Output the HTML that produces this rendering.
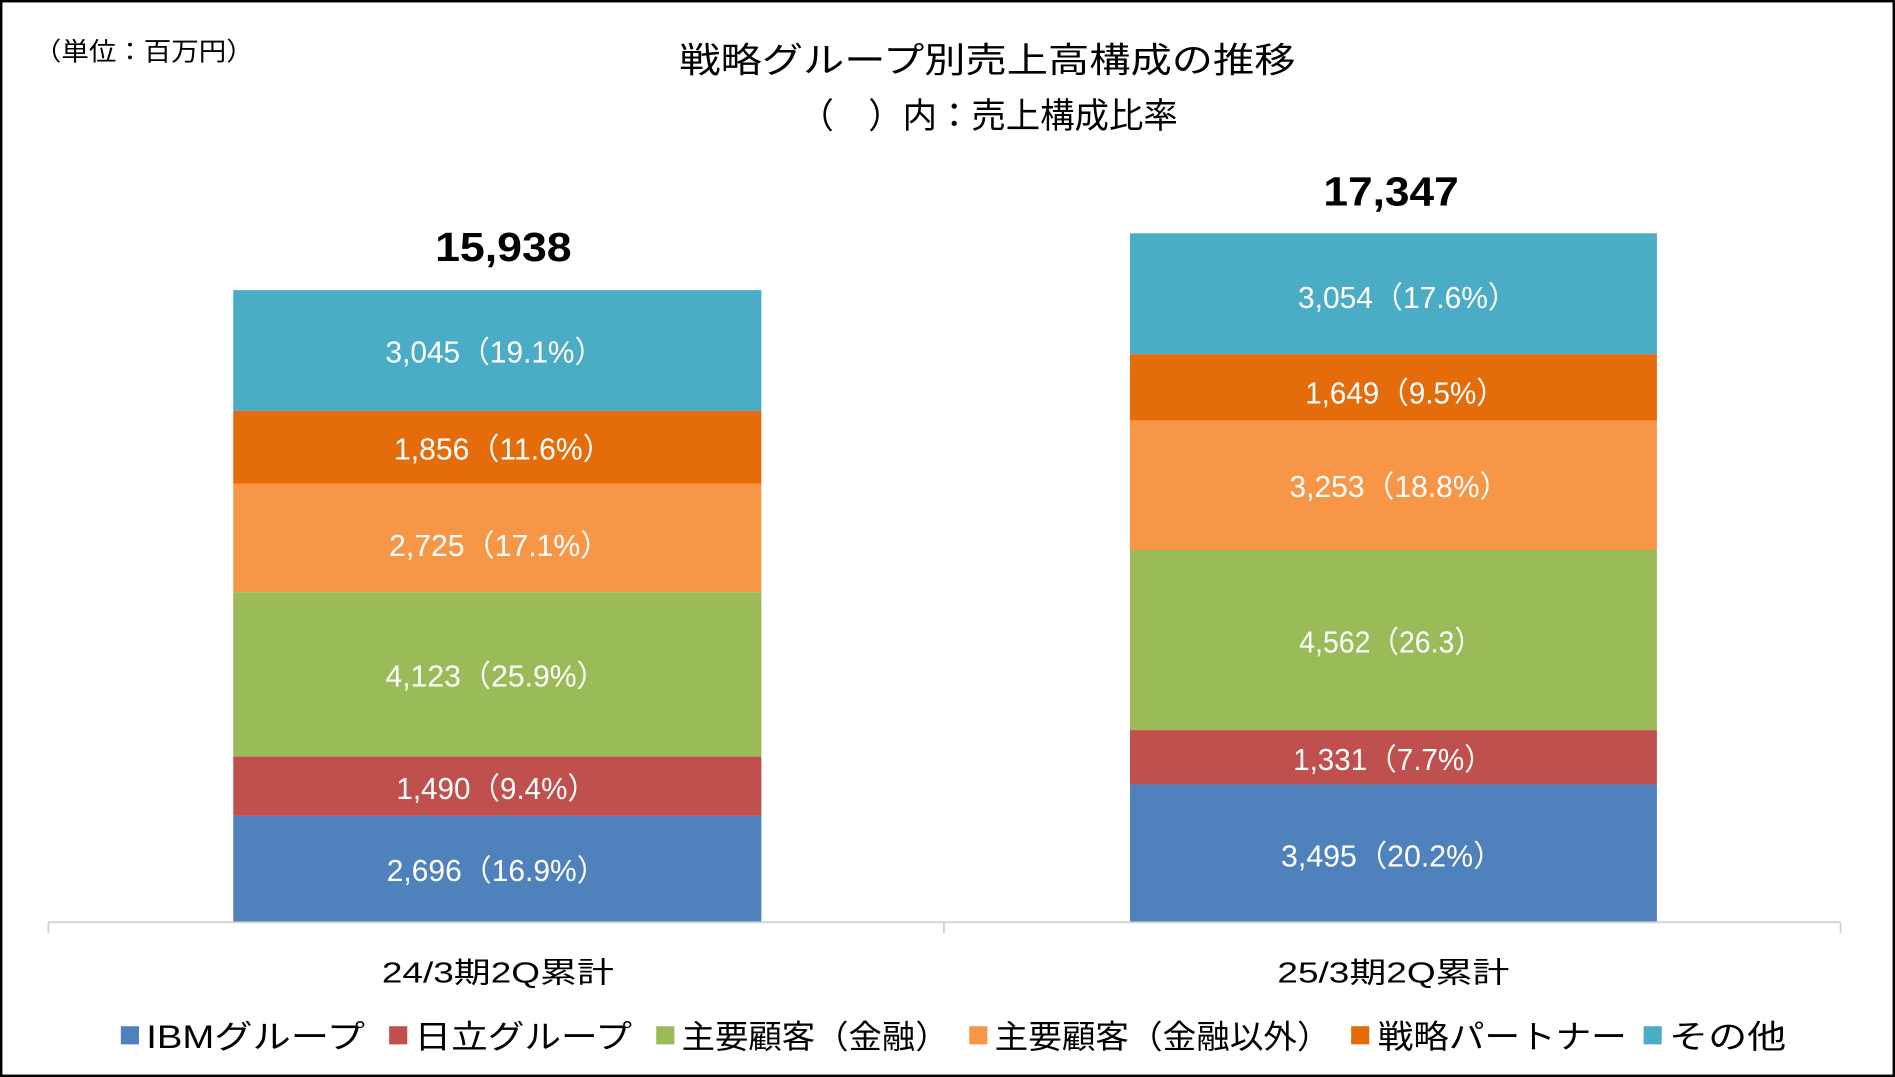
<!DOCTYPE html>
<html><head><meta charset="utf-8"><style>
html,body{margin:0;padding:0;background:#fff}
svg{display:block}
text{font-family:"Liberation Sans","Noto Sans CJK JP",sans-serif}
</style></head><body>
<svg width="1895" height="1077" viewBox="0 0 1568 891" preserveAspectRatio="none" xmlns="http://www.w3.org/2000/svg">
<rect x="1" y="1" width="1566" height="889" fill="#fff" stroke="#000" stroke-width="2"/>
<text x="28" y="50" font-size="21" fill="#000" textLength="182" lengthAdjust="spacingAndGlyphs">（単位：百万円）</text>
<text x="817" y="60" font-size="29" text-anchor="middle" fill="#000" textLength="510" lengthAdjust="spacingAndGlyphs">戦略グループ別売上高構成の推移</text>
<text x="818" y="106" font-size="29" text-anchor="middle" fill="#000" textLength="313" lengthAdjust="spacingAndGlyphs">（　）内：売上構成比率</text>
<rect x="193" y="240" width="437" height="100" fill="#4BACC6"/>
<rect x="193" y="340" width="437" height="60" fill="#E46C0A"/>
<rect x="193" y="400" width="437" height="90" fill="#F79646"/>
<rect x="193" y="490" width="437" height="136" fill="#9BBB59"/>
<rect x="193" y="626" width="437" height="49" fill="#C0504D"/>
<rect x="193" y="675" width="437" height="88" fill="#4F81BD"/>
<rect x="935" y="193" width="436" height="100" fill="#4BACC6"/>
<rect x="935" y="293" width="436" height="55" fill="#E46C0A"/>
<rect x="935" y="348" width="436" height="107" fill="#F79646"/>
<rect x="935" y="455" width="436" height="149" fill="#9BBB59"/>
<rect x="935" y="604" width="436" height="45" fill="#C0504D"/>
<rect x="935" y="649" width="436" height="114" fill="#4F81BD"/>
<g font-size="25" fill="#fff" lengthAdjust="spacingAndGlyphs">
<text x="319" y="300" textLength="181" lengthAdjust="spacingAndGlyphs">3,045（19.1%）</text>
<text x="326" y="380" textLength="181" lengthAdjust="spacingAndGlyphs">1,856（11.6%）</text>
<text x="322" y="460" textLength="183" lengthAdjust="spacingAndGlyphs">2,725（17.1%）</text>
<text x="319" y="568" textLength="183" lengthAdjust="spacingAndGlyphs">4,123（25.9%）</text>
<text x="328" y="661" textLength="166" lengthAdjust="spacingAndGlyphs">1,490（9.4%）</text>
<text x="320" y="729" textLength="182" lengthAdjust="spacingAndGlyphs">2,696（16.9%）</text>
<text x="1074" y="255" textLength="182" lengthAdjust="spacingAndGlyphs">3,054（17.6%）</text>
<text x="1080" y="334" textLength="166" lengthAdjust="spacingAndGlyphs">1,649（9.5%）</text>
<text x="1067" y="411" textLength="182" lengthAdjust="spacingAndGlyphs">3,253（18.8%）</text>
<text x="1075" y="540" textLength="152" lengthAdjust="spacingAndGlyphs">4,562（26.3）</text>
<text x="1070" y="637" textLength="166" lengthAdjust="spacingAndGlyphs">1,331（7.7%）</text>
<text x="1060" y="717" textLength="184" lengthAdjust="spacingAndGlyphs">3,495（20.2%）</text>
</g>
<g font-size="34" font-weight="bold" fill="#000">
<text x="360" y="216" textLength="113" lengthAdjust="spacingAndGlyphs">15,938</text>
<text x="1095" y="170" textLength="112" lengthAdjust="spacingAndGlyphs">17,347</text>
</g>
<g stroke="#d0d0d0" stroke-width="1.5">
<line x1="40" y1="763" x2="1523" y2="763"/>
<line x1="40" y1="763" x2="40" y2="772"/>
<line x1="781" y1="763" x2="781" y2="772"/>
<line x1="1523" y1="763" x2="1523" y2="772"/>
</g>
<g font-size="24" fill="#000">
<text x="316" y="813" textLength="192" lengthAdjust="spacingAndGlyphs">24/3期2Q累計</text>
<text x="1057" y="813" textLength="192" lengthAdjust="spacingAndGlyphs">25/3期2Q累計</text>
</g>
<g font-size="27" fill="#000">
<rect x="100" y="849" width="15" height="15" fill="#4F81BD"/><text x="121" y="867" textLength="181" lengthAdjust="spacingAndGlyphs">IBMグループ</text>
<rect x="322" y="849" width="15" height="15" fill="#C0504D"/><text x="343" y="867" textLength="180" lengthAdjust="spacingAndGlyphs">日立グループ</text>
<rect x="543" y="849" width="15" height="15" fill="#9BBB59"/><text x="564" y="867" textLength="221" lengthAdjust="spacingAndGlyphs">主要顧客（金融）</text>
<rect x="802" y="849" width="15" height="15" fill="#F79646"/><text x="823" y="867" textLength="278" lengthAdjust="spacingAndGlyphs">主要顧客（金融以外）</text>
<rect x="1118" y="849" width="15" height="15" fill="#E46C0A"/><text x="1140" y="867" textLength="206" lengthAdjust="spacingAndGlyphs">戦略パートナー</text>
<rect x="1360" y="849" width="15" height="15" fill="#4BACC6"/><text x="1381" y="867" textLength="97" lengthAdjust="spacingAndGlyphs">その他</text>
</g>
</svg>
</body></html>
